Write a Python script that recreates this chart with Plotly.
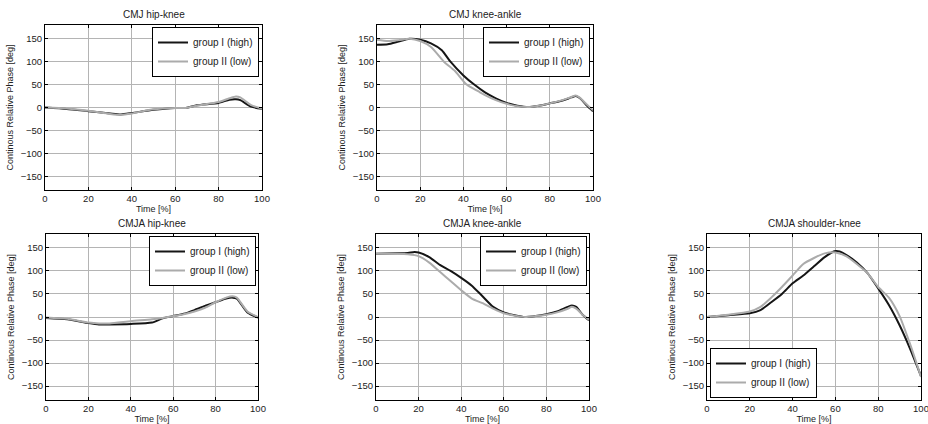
import plotly.graph_objects as go

# ---------------- data ----------------
titles = ["CMJ hip-knee", "CMJ knee-ankle", "CMJA hip-knee", "CMJA knee-ankle", "CMJA shoulder-knee"]
names = ["group I (high)", "group II (low)"]

# CMJ hip-knee
t1_hi = [0, 10, 20, 30, 35, 40, 50, 60, 65, 70, 80, 85, 88, 90, 95, 100]
y1_hi = [0, -3, -8, -13, -15, -12, -5, -1, -1, 5, 10, 17, 18, 16, 2, -3]
t1_lo = [0, 10, 20, 30, 35, 40, 50, 60, 65, 70, 80, 85, 88, 90, 95, 100]
y1_lo = [0, -2, -7, -14, -16, -13, -4, -1, -1, 4, 12, 20, 24, 22, 5, -2]

# CMJ knee-ankle
t2_hi = [0, 5, 10, 15, 20, 25, 30, 34, 40, 45, 50, 55, 60, 65, 70, 75, 80, 85, 90, 92, 94, 97, 100]
y2_hi = [137, 138, 144, 150, 148, 140, 125, 100, 70, 50, 33, 20, 10, 4, 1, 4, 9, 14, 22, 25, 20, 5, -8]
t2_lo = [0, 5, 10, 15, 20, 25, 31, 36, 41.5, 47, 50, 55, 60, 65, 70, 75, 80, 85, 90, 92, 94, 97, 100]
y2_lo = [148, 145, 147, 150, 145, 132, 100, 80, 50, 35, 27, 16, 8, 3, 1, 4, 9, 15, 23, 26, 21, 7, -6]

# CMJA hip-knee
t3_hi = [0, 10, 20, 25, 30, 40, 50, 55, 60, 65, 70, 75, 80, 85, 88, 90, 95, 100]
y3_hi = [-2, -5, -13, -16, -16, -15, -12, -3, 2, 7, 15, 24, 32, 40, 42, 40, 10, -1]
t3_lo = [0, 10, 20, 25, 30, 40, 50, 55, 60, 65, 70, 75, 80, 85, 88, 90, 95, 100]
y3_lo = [-1, -4, -12, -14, -14, -9, -5, -2, 2, 6, 12, 20, 32, 42, 45, 42, 12, 0]

# CMJA knee-ankle
t4_hi = [0, 10, 15, 18, 20, 25, 30, 35, 40, 45, 50, 55, 60, 65, 70, 75, 80, 85, 90, 92, 94, 97, 100]
y4_hi = [137, 138, 139, 141, 140, 130, 113, 100, 85, 68, 45, 22, 10, 4, 0, 2, 6, 12, 22, 25, 22, 5, -7]
t4_lo = [0, 10, 15, 20, 25, 30, 35, 40, 45, 50, 55, 60, 65, 70, 75, 80, 85, 90, 92, 94, 97, 100]
y4_lo = [137, 137, 136, 132, 118, 98, 78, 58, 40, 30, 18, 8, 3, 0, 2, 5, 10, 18, 22, 18, 5, -6]

# CMJA shoulder-knee
t5_hi = [0, 10, 20, 25, 30, 35, 40, 45, 50, 55, 60, 62, 65, 70, 75, 80, 85, 90, 95, 100]
y5_hi = [0, 4, 8, 15, 32, 50, 73, 90, 110, 130, 143, 142, 135, 118, 95, 62, 26, -18, -70, -128]
t5_lo = [0, 10, 20, 25, 30, 35, 40, 45, 50, 55, 60, 65, 70, 75, 80, 85, 90, 95, 100]
y5_lo = [0, 5, 12, 22, 42, 65, 90, 115, 128, 138, 140, 132, 115, 95, 65, 42, 2, -60, -130]

x_ticks = [0, 20, 40, 60, 80, 100]
y_ticks = [-150, -100, -50, 0, 50, 100, 150]
x_title = "Time [%]"
y_title = "Continous Relative Phase [deg]"

series = [
    (t1_hi, y1_hi, t1_lo, y1_lo),
    (t2_hi, y2_hi, t2_lo, y2_lo),
    (t3_hi, y3_hi, t3_lo, y3_lo),
    (t4_hi, y4_hi, t4_lo, y4_lo),
    (t5_hi, y5_hi, t5_lo, y5_lo),
]

# ---------------- layout (pixel boxes) ----------------
W, H = 928, 424
boxes = [  # left, right, top, bottom in px
    (45, 262, 25, 190),
    (377, 593, 25, 190),
    (46, 258, 234, 400),
    (376, 589, 234, 400),
    (707, 921, 234, 400),
]
legend_pos = [  # x px, y px, xanchor, yanchor
    (259, 27, "right", "top"),
    (590, 27, "right", "top"),
    (256, 236, "right", "top"),
    (587, 236, "right", "top"),
    (710, 398, "left", "bottom"),
]

FONT = "Liberation Sans, Arial, Helvetica, sans-serif"
fig = go.Figure()
BLACK = "#151515"
GRAY = "#ababab"

layout = dict(
    width=W, height=H,
    margin=dict(l=0, r=0, t=0, b=0, autoexpand=False),
    paper_bgcolor="white", plot_bgcolor="white",
    font=dict(family=FONT, size=9, color="#222"),
    showlegend=True,
)
annotations = []

for i, ((th, yh, tl, yl), (l, r, t, b), (lx, ly, xa, ya)) in enumerate(zip(series, boxes, legend_pos)):
    k = i + 1
    sx = "" if k == 1 else str(k)
    leg = "legend" if k == 1 else f"legend{k}"
    fig.add_trace(go.Scatter(x=th, y=yh, mode="lines", name=names[0],
                             line=dict(color=BLACK, width=2, shape="spline", smoothing=0.6),
                             xaxis="x" + sx, yaxis="y" + sx, legend=leg))
    fig.add_trace(go.Scatter(x=tl, y=yl, mode="lines", name=names[1],
                             line=dict(color=GRAY, width=2, shape="spline", smoothing=0.6),
                             xaxis="x" + sx, yaxis="y" + sx, legend=leg))
    axcommon = dict(showgrid=True, gridcolor="#b4b4b4", gridwidth=1, zeroline=False,
                    showline=True, linecolor="black", linewidth=1, mirror="ticks",
                    ticks="inside", ticklen=3, tickcolor="black", automargin=False,
                    ticklabeloverflow="allow",
                    tickfont=dict(size=9.5, color="#222"))
    layout["xaxis" + sx] = dict(axcommon, domain=[l / W, r / W], range=[0, 100], tickvals=x_ticks,
                                anchor="y" + sx,
                                title=dict(text=x_title, font=dict(size=9), standoff=2))
    layout["yaxis" + sx] = dict(axcommon, domain=[1 - b / H, 1 - t / H], range=[-180, 180], tickvals=y_ticks,
                                anchor="x" + sx,
                                title=dict(text=y_title, font=dict(size=9), standoff=5))
    layout[leg] = dict(x=lx / W, y=1 - ly / H, xanchor=xa, yanchor=ya, xref="paper", yref="paper",
                       bgcolor="white", bordercolor="black", borderwidth=1,
                       font=dict(size=10, color="#222"), itemwidth=30, tracegroupgap=0)
    annotations.append(dict(text=titles[i], x=(l + r) / 2 / W, y=1 - (15 if t < 100 else 223) / H,
                            xref="paper", yref="paper", showarrow=False, xanchor="center", yanchor="middle",
                            font=dict(size=10, color="#222")))

layout["annotations"] = annotations
fig.update_layout(**layout)
fig.write_html("out.html", config={"displayModeBar": False},
               post_script="document.body.style.margin='0';document.body.style.overflow='hidden';")
